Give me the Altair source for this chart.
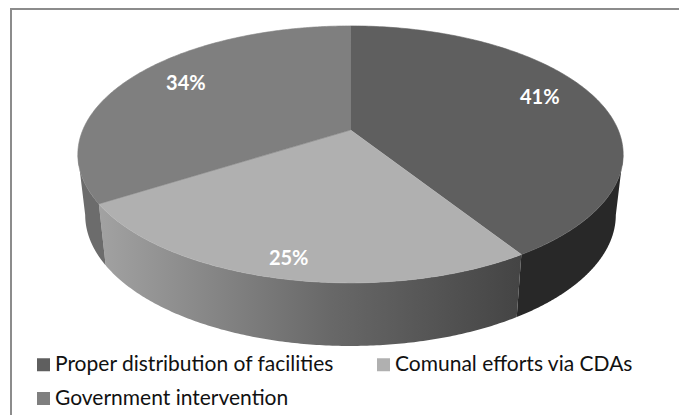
import numpy as np
import pandas as pd
import altair as alt

categories = ["Proper distribution of facilities", "Comunal efforts via CDAs", "Government intervention"]
shares = [41, 25, 34]
top_colors = ["#5f5f5f", "#b0b0b0", "#7f7f7f"]

W, H = 679, 415
FONT = "Lato"
TILT = 0.19

# Tilted-disc projection: a unit circle seen in perspective, with the hub off the ellipse centre.
def project(u, v, depth=0.0, xscale=1.0, yscale=1.0):
    d = 1 - TILT * v
    x = 350.5 + 267.7 * xscale * u / d
    y = 154.5 + depth + yscale * (128.5 * v - 24.5) / d
    return x, y


def rim(t0, t1, depth=0.0, xscale=1.0, yscale=1.0):
    t = np.radians(np.linspace(t0, t1, 160))
    return project(np.sin(t), -np.cos(t), depth, xscale, yscale)


edges = np.cumsum([0] + shares) * 3.6
DEPTH = 60.5
BASE_X = 0.973
BASE_Y = 1.02
# Angle at which the drum's silhouette leaves the top rim.
SIDE_T = np.degrees(np.arccos(-TILT))

# Top faces: hub, then along the rim of each slice.
top_rows = []
for name, a, b in zip(categories, edges[:-1], edges[1:]):
    hx, hy = project(0.0, 0.0)
    xs, ys = rim(a, b)
    xs = np.r_[hx, xs]
    ys = np.r_[hy, ys]
    top_rows += [{"cat": name, "n": i, "x": x, "y": y} for i, (x, y) in enumerate(zip(xs, ys))]
top_df = pd.DataFrame(top_rows)


def wall(t0, t1):
    xa, ya = rim(t0, t1)
    xb, yb = rim(t0, t1, DEPTH, BASE_X, BASE_Y)
    xs = np.r_[xa, xb[::-1]]
    ys = np.r_[ya, yb[::-1]]
    return pd.DataFrame({"n": np.arange(len(xs)), "x": xs, "y": ys})


x_enc = alt.X("x:Q", scale=alt.Scale(domain=[0, W]), axis=None)
y_enc = alt.Y("y:Q", scale=alt.Scale(domain=[H, 0]), axis=None)


def wall_layer(df, fill):
    return alt.Chart(df).mark_line(fill=fill, strokeWidth=0, strokeOpacity=0).encode(
        x=x_enc, y=y_enc, order="n:Q"
    )


def side_gradient(stops):
    return alt.Gradient(
        gradient="linear", x1=0, x2=1, y1=0, y2=0,
        stops=[alt.GradientStop(offset=o, color=c) for o, c in stops],
    )


# Side of the drum: one band per slice, between the silhouette tangents.
walls = [
    wall_layer(wall(SIDE_T, edges[1]), "#282828"),
    wall_layer(wall(edges[1], edges[2]), side_gradient([(0, "#a2a2a2"), (0.55, "#686868"), (1, "#444444")])),
    wall_layer(wall(edges[2], 360 - SIDE_T), "#6c6c6c"),
]

color_scale = alt.Scale(domain=categories, range=top_colors)
faces = alt.Chart(top_df).mark_line(strokeWidth=0.6).encode(
    x=x_enc,
    y=y_enc,
    order="n:Q",
    stroke=alt.Stroke("cat:N", scale=color_scale, sort=categories, legend=None),
    fill=alt.Fill(
        "cat:N",
        scale=color_scale,
        sort=categories,
        legend=alt.Legend(
            title=None, orient="none", legendX=33, legendY=354, columns=2, direction="horizontal",
            symbolType="square", symbolSize=169, symbolStrokeWidth=0,
            labelFont=FONT, labelFontSize=21, labelColor="#111111", labelLimit=400,
            rowPadding=12, columnPadding=38, labelOffset=1,
        ),
    ),
)

# Percent labels sit on each slice's mid-angle, at a per-slice fraction of the radius.
label_radius = [0.80, 0.885, 0.78]
label_nudge = [-5.0, 0.0, 3.0]
mids = (edges[:-1] + edges[1:]) / 2 + np.array(label_nudge)
lx, ly = project(np.array(label_radius) * np.sin(np.radians(mids)),
                 -np.array(label_radius) * np.cos(np.radians(mids)))
label_df = pd.DataFrame({"x": lx, "y": ly, "text": [f"{s}%" for s in shares]})
labels = alt.Chart(label_df).mark_text(
    font=FONT, fontSize=20, fontWeight="bold", color="white", baseline="middle", dy=1.5
).encode(x=x_enc, y=y_enc, text="text:N")

frame_color = "#8c8c8c"
frame_top = alt.Chart(pd.DataFrame({"a": [0]})).mark_rule(color=frame_color, strokeWidth=2).encode(
    x=alt.value(10), x2=alt.value(W), y=alt.value(9)
)
frame_left = alt.Chart(pd.DataFrame({"a": [0]})).mark_rule(color=frame_color, strokeWidth=2).encode(
    x=alt.value(11), y=alt.value(8), y2=alt.value(H)
)

chart = alt.layer(*walls, faces, labels, frame_top, frame_left).properties(
    width=W, height=H, padding=0, background="white",
    autosize=alt.AutoSizeParams(type="none"),
).configure_view(stroke=None)

chart.save("out.html", embed_options={"renderer": "svg", "actions": False})
